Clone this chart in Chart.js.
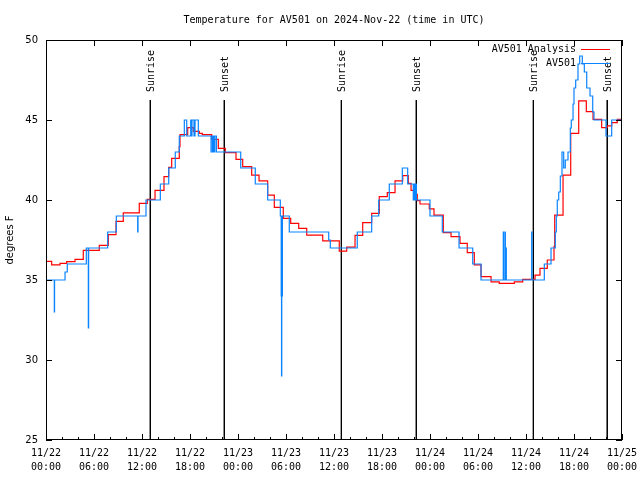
<!DOCTYPE html>
<html>
<head>
<meta charset="utf-8">
<script src="https://cdn.jsdelivr.net/npm/chart.js@4.4.1/dist/chart.umd.min.js"></script>
<style>
  html, body { margin: 0; padding: 0; background: #fff; }
  canvas { display: block; }
</style>
</head>
<body>
<canvas id="chart" width="640" height="480"></canvas>
<script>
// hours since 2024-11-22 00:00 UTC
const analysisHours = [0, 0.71, 1.75, 2.59, 3.63, 4.66, 6.66, 7.79, 8.75, 9.66, 11.66, 12.66, 13.63, 14.75, 15.34, 15.71, 16.66, 16.75, 17.71, 18.41, 19.16, 19.54, 20.71, 21.54, 22.41, 23.75, 24.59, 25.71, 26.63, 27.71, 28.54, 29.66, 30.59, 31.59, 32.59, 34.59, 36.66, 37.59, 38.63, 39.59, 40.71, 41.66, 42.66, 43.63, 44.59, 45.29, 45.63, 46.04, 46.41, 46.75, 47.91, 48.5, 49.66, 50.63, 51.75, 52.66, 53.54, 54.38, 55.63, 56.66, 58.54, 59.59, 61.13, 61.75, 62.66, 63.5, 63.59, 64.63, 65.59, 66.59, 67.54, 68.38, 69.46, 70.16, 70.71, 71.41, 72];
const analysisTemps = [36.17, 35.94, 36.04, 36.15, 36.29, 36.85, 37.17, 37.83, 38.67, 39.2, 39.79, 40.04, 40.6, 41.46, 42.04, 42.6, 43.33, 44.08, 44.52, 44.29, 44.17, 44.08, 43.79, 43.23, 42.96, 42.54, 42.08, 41.56, 41.19, 40.31, 39.54, 38.85, 38.54, 38.23, 37.81, 37.44, 36.81, 37.06, 37.79, 38.58, 39.17, 40.21, 40.46, 41.19, 41.52, 41.04, 40.6, 40.35, 39.96, 39.75, 39.44, 39.06, 37.96, 37.71, 37.29, 36.71, 35.94, 35.21, 34.88, 34.79, 34.88, 35.04, 35.31, 35.73, 36.25, 37.08, 39.06, 41.56, 44.17, 46.19, 45.52, 45.04, 44.52, 44.63, 44.83, 45.04, 45.04];

const obsHours = [0, 1.04, 1.07, 2.38, 2.66, 5.04, 5.29, 5.33, 7.71, 8.79, 11.46, 11.5, 12.5, 14.29, 15.34, 16.16, 16.66, 17.29, 17.59, 18.09, 18.16, 18.25, 18.5, 18.63, 19.04, 20.63, 20.8, 20.95, 21.1, 21.3, 24.34, 26.16, 27.71, 29.29, 29.4, 29.44, 29.47, 29.55, 30.41, 35.34, 35.54, 38.91, 40.71, 41.59, 42.91, 44.54, 45.21, 45.91, 46.0, 46.1, 46.2, 46.3, 48.0, 49.54, 51.63, 53.34, 54.38, 57.16, 57.2, 57.38, 57.42, 57.5, 57.54, 60.71, 60.75, 62.29, 63.13, 63.66, 63.79, 63.91, 64.09, 64.29, 64.5, 64.71, 64.91, 65.25, 65.54, 65.66, 65.88, 66.0, 66.21, 66.5, 66.71, 67.04, 67.29, 67.59, 68.0, 68.34, 68.5, 70.0, 70.71, 72];
const obsTemps = [35, 33, 35, 35.5, 36, 37, 32, 37, 38, 39, 38, 39, 40, 41, 42, 43, 44, 45, 44, 45, 44, 45, 44, 45, 44, 43, 44, 43, 44, 43, 42, 41, 40, 39, 34, 29, 34, 39, 38, 37.5, 37, 38, 39, 40, 41, 42, 41, 40, 41, 40, 41, 40, 39, 38, 37, 36, 35, 38, 35, 38, 35, 37, 35, 38, 35, 36, 37, 38, 39, 40, 40.5, 41.5, 43, 42, 42.5, 43, 44.5, 45, 46, 47, 47.5, 48.5, 49, 48.5, 48, 47, 46.5, 45.5, 45, 44, 45, 45];

const sunHours = [13.04, 22.29, 36.92, 46.29, 60.92, 70.16];
const sunLabels = ['Sunrise', 'Sunset', 'Sunrise', 'Sunset', 'Sunrise', 'Sunset'];
const sunTop = 46.25;

const xTickDays = ['11/22', '11/22', '11/22', '11/22', '11/23', '11/23', '11/23', '11/23', '11/24', '11/24', '11/24', '11/24', '11/25'];
const xTickTimes = ['00:00', '06:00', '12:00', '18:00', '00:00', '06:00', '12:00', '18:00', '00:00', '06:00', '12:00', '18:00', '00:00'];
const yMin = 25, yMax = 50, yStep = 5;

const MONO = '"DejaVu Sans Mono", "Liberation Mono", monospace';
const SANS = '"DejaVu Sans", "Liberation Sans", sans-serif';

const toPoints = (xs, ys) => xs.map((x, i) => ({ x: x, y: ys[i] }));

const sunPoints = [];
sunHours.forEach(h => {
  sunPoints.push({ x: h, y: sunTop }, { x: h, y: yMin }, { x: h, y: null });
});

// gnuplot style frame, inward ticks, sun labels and key
const gnuplotBits = {
  id: 'gnuplotBits',
  afterDraw(chart) {
    const ctx = chart.ctx;
    const a = chart.chartArea;
    const xs = chart.scales.x, ys = chart.scales.y;
    ctx.save();
    ctx.strokeStyle = '#000';
    ctx.lineWidth = 1;
    ctx.strokeRect(a.left + 0.5, a.top + 0.5, a.right - a.left - 1, a.bottom - a.top - 1);

    ctx.beginPath();
    for (let h = 0; h <= 72; h += 2) {
      const px = Math.round(xs.getPixelForValue(h)) + 0.5;
      const major = h % 6 === 0;
      ctx.moveTo(px, a.bottom);
      ctx.lineTo(px, a.bottom - (major ? 6 : 3));
      if (major) {
        ctx.moveTo(px, a.top);
        ctx.lineTo(px, a.top + 6);
      }
    }
    for (let v = yMin; v <= yMax; v += yStep) {
      const py = Math.round(ys.getPixelForValue(v)) + 0.5;
      ctx.moveTo(a.left, py);
      ctx.lineTo(a.left + 6, py);
      ctx.moveTo(a.right, py);
      ctx.lineTo(a.right - 6, py);
    }
    ctx.stroke();

    // sunrise / sunset labels
    ctx.fillStyle = '#000';
    ctx.font = '10px ' + MONO;
    ctx.textAlign = 'left';
    ctx.textBaseline = 'middle';
    sunHours.forEach((h, i) => {
      const px = xs.getPixelForValue(h) + 1;
      const py = ys.getPixelForValue(sunTop) - 8;
      ctx.save();
      ctx.translate(px, py);
      ctx.rotate(-Math.PI / 2);
      ctx.fillText(sunLabels[i], 0, 0);
      ctx.restore();
    });

    // key, text right of which the sample line sits
    ctx.textAlign = 'right';
    const keySets = chart.data.datasets.filter(d => d.inKey);
    keySets.forEach((d, i) => {
      const y = 49 + i * 14;
      ctx.fillStyle = '#000';
      ctx.fillText(d.label, 576, y);
      ctx.strokeStyle = d.borderColor;
      ctx.beginPath();
      ctx.moveTo(581, y + 0.5);
      ctx.lineTo(610, y + 0.5);
      ctx.stroke();
    });
    ctx.restore();
  }
};

new Chart(document.getElementById('chart'), {
  type: 'line',
  data: {
    datasets: [
      {
        label: 'AV501 Analysis',
        data: toPoints(analysisHours, analysisTemps),
        borderColor: '#ff0000',
        borderWidth: 1.2,
        stepped: true,
        pointRadius: 0,
        order: 1,
        inKey: true
      },
      {
        label: 'AV501',
        data: toPoints(obsHours, obsTemps),
        borderColor: '#0a84ff',
        borderWidth: 1.2,
        stepped: true,
        pointRadius: 0,
        order: 0,
        inKey: true
      },
      {
        label: 'sun',
        data: sunPoints,
        borderColor: '#000',
        borderWidth: 1,
        pointRadius: 0,
        spanGaps: false,
        order: 2
      }
    ]
  },
  options: {
    responsive: false,
    animation: false,
    devicePixelRatio: 1,
    layout: { padding: { left: 0, right: 18, top: 0, bottom: 0 } },
    plugins: {
      legend: { display: false },
      tooltip: { enabled: false },
      title: {
        display: true,
        text: 'Temperature for AV501 on 2024-Nov-22 (time in UTC)',
        color: '#000',
        fullSize: false,
        font: { family: MONO, size: 10, weight: 'normal', lineHeight: 1.2 },
        padding: { top: 14, bottom: 14 }
      }
    },
    scales: {
      x: {
        type: 'linear',
        min: 0,
        max: 72,
        grid: { display: false, drawTicks: false },
        border: { display: false },
        afterFit: s => { s.height = 40; s.paddingLeft = 0; s.paddingRight = 0; },
        ticks: {
          stepSize: 6,
          autoSkip: false,
          maxRotation: 0,
          padding: 6,
          color: '#000',
          font: { family: MONO, size: 10, lineHeight: 1.4 },
          callback: v => (v % 6 === 0 ? [xTickDays[v / 6], xTickTimes[v / 6]] : '')
        }
      },
      y: {
        min: yMin,
        max: yMax,
        grid: { display: false, drawTicks: false },
        border: { display: false },
        afterFit: s => { s.width = 46; s.paddingTop = 0; s.paddingBottom = 0; },
        ticks: {
          stepSize: yStep,
          padding: 8,
          color: '#000',
          font: { family: SANS, size: 10 }
        },
        title: {
          display: true,
          text: 'degrees F',
          color: '#000',
          font: { family: SANS, size: 10 },
          padding: { top: 4, bottom: 0 }
        }
      }
    }
  },
  plugins: [gnuplotBits]
});
</script>
</body>
</html>
